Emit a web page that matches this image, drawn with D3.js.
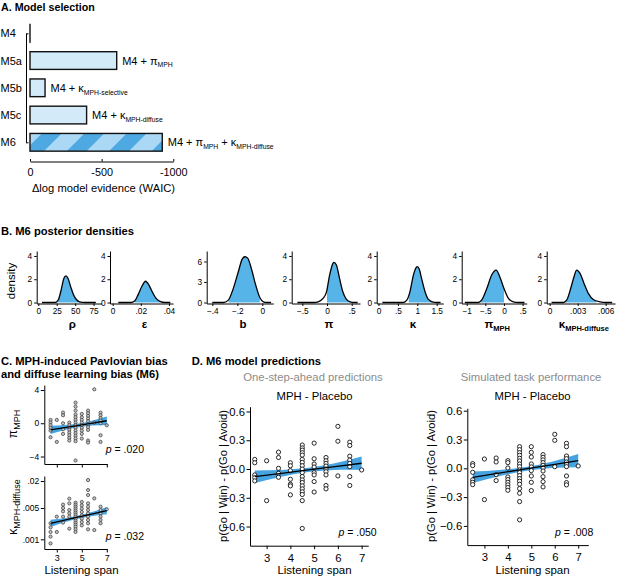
<!DOCTYPE html>
<html>
<head>
<meta charset="utf-8">
<script src="https://cdn.jsdelivr.net/npm/d3@7"></script>
<style>
  body { margin: 0; background: #fff; }
  svg { font-family: "Liberation Sans", Arial, sans-serif; }
</style>
</head>
<body>
<svg id="fig" width="617" height="579"></svg>
<script>
// ---------- data ----------

// A. model selection
var models = ['M4', 'M5a', 'M5b', 'M5c', 'M6'];
var deltaWAIC = [0, -605, -105, -395, -923];
var modelTerms = [
  [],
  [['M4 + π'], ['MPH', 1]],
  [['M4 + κ'], ['MPH-selective', 1]],
  [['M4 + κ'], ['MPH-diffuse', 1]],
  [['M4 + π'], ['MPH', 1], [' + κ'], ['MPH-diffuse', 1]]
];

// B. posterior densities (x, density)
var rho      = {x: [5, 23, 27, 31.4, 34.6, 37.5, 40.4, 44, 47.6, 51.6, 56, 63, 78],
                d: [0, 0, 0.2, 1.2, 2.06, 2.29, 2.06, 1.34, 0.69, 0.26, 0.06, 0, 0]};
var epsilon  = {x: [0.004, 0.013, 0.0158, 0.0182, 0.0206, 0.0234, 0.0258, 0.0282, 0.0306, 0.0336, 0.0372, 0.041],
                d: [0, 0, 0.15, 0.7, 1.35, 1.83, 1.5, 0.9, 0.4, 0.1, 0, 0]};
var goBias   = {x: [-0.4, -0.312, -0.272, -0.232, -0.192, -0.16, -0.139, -0.117, -0.085, -0.053, -0.019, 0.008, 0.035, 0.07],
                d: [0, 0, 0.35, 2.07, 4.5, 6.4, 6.7, 6.5, 4.8, 2.56, 0.69, 0.1, 0, 0]};
var pav      = {x: [-0.6, -0.26, -0.18, -0.08, -0.01, 0.054, 0.12, 0.14, 0.19, 0.254, 0.32, 0.39, 0.47, 0.55, 0.62],
                d: [0, 0, 0.06, 0.35, 0.92, 2.37, 3.37, 3.45, 3.22, 2.07, 0.92, 0.29, 0.06, 0, 0]};
var kappa    = {x: [0.1, 0.64, 0.73, 0.81, 0.9, 0.97, 1.0, 1.05, 1.11, 1.2, 1.28, 1.41, 1.5, 1.6],
                d: [0, 0, 0.2, 0.92, 2.36, 3.0, 3.08, 2.88, 2.07, 0.92, 0.29, 0.03, 0, 0]};
var pavMPH   = {x: [-1.05, -0.69, -0.6, -0.46, -0.33, -0.21, -0.11, 0, 0.12, 0.25, 0.38, 0.55],
                d: [0, 0, 0.2, 1.2, 2.36, 2.79, 2.2, 1.2, 0.35, 0.06, 0, 0]};
var kappaMPH = {x: [0.0002, 0.00146, 0.00182, 0.00225, 0.0026, 0.00289, 0.00325, 0.00368, 0.00414, 0.00467, 0.00539, 0.0061, 0.0067],
                d: [0, 0, 0.2, 1.2, 2.2, 2.79, 2.5, 1.64, 0.78, 0.26, 0.06, 0, 0]};

var posteriors = [
  {dens: rho,      fill: [27, 63],         dom: [-2.2, 86],          ticks: [0, 25, 50, 75],   labels: ['0', '25', '50', '75'],        yt: [0, 2, 4], name: [['ρ']]},
  {dens: epsilon,  fill: [0.0158, 0.034],  dom: [-0.0019, 0.0429],   ticks: [0, 0.02, 0.04],   labels: ['0', '.02', '.04'],            yt: [0, 2, 4], name: [['ε']]},
  {dens: goBias,   fill: [-0.27, -0.02],   dom: [-0.445, 0.088],     ticks: [-0.4, -0.2, 0],   labels: ['−.4', '−.2', '0'],            yt: [0, 3, 6], name: [['b']]},
  {dens: pav,      fill: [0, 0.55],        dom: [-0.715, 0.668],     ticks: [-0.5, 0, 0.5],    labels: ['−.5', '0', '.5'],             yt: [0, 2, 4], name: [['π']]},
  {dens: kappa,    fill: [0.78, 1.5],      dom: [-0.046, 1.67],      ticks: [0, 0.5, 1, 1.5],  labels: ['0', '.5', '1', '1.5'],        yt: [0, 2, 4], name: [['κ']]},
  {dens: pavMPH,   fill: [-0.62, 0],       dom: [-1.134, 0.61],      ticks: [-1, -0.5, 0, 0.5], labels: ['−1', '−.5', '0', '.5'],      yt: [0, 2, 4], name: [['π'], ['MPH', 1]]},
  {dens: kappaMPH, fill: [0.0017, 0.005],  dom: [-0.00032, 0.0070],  ticks: [0, 0.003, 0.006], labels: ['0', '.003', '.006'],         yt: [0, 2, 4], name: [['κ'], ['MPH-diffuse', 1]]}
];

// C / D. per-subject values, grouped by listening span
var spanCols = [2.5, 3, 3.5, 4, 4.5, 5, 5.5, 6, 6.5, 7];
var piMPHCols = [
  [0.4, 0.08, -0.24, -0.56, -0.88, -1.68],
  [0.4, -2.24],
  [1.28, 0.96, 0, -0.72, -1.28],
  [0.08, -0.24, -0.52, -0.8, -1.12, -1.44, -1.76, -2.08],
  [2.48, 2.0, 1.52, 1.04, 0.72, 0.4, 0.08, -0.24, -0.56, -0.88, -1.2, -1.52, -1.84, -2.16, -4.48],
  [1.12, 0.72, 0.4, 0.08, -0.24, -0.56, -0.88, -1.28, -1.84],
  [1.52, 1.2, 0.88, 0.56, 0.24, -0.16, -0.48, -0.8, -2.08, -2.32],
  [4.08, 0.08],
  [1.28, 0.96, 0.64, 0.32, 0, -1.44, -2.24],
  [-0.24]
];
var kappaMPHCols = [
  [0.00228, 0.00185, 0.00146, 0.00115, 0.00081],
  [0.0032, 0.00146],
  [0.00593, 0.005, 0.0042, 0.0032, 0.00236],
  [0.00807, 0.00635, 0.00451, 0.0038, 0.0032, 0.00173],
  [0.00657, 0.00593, 0.00535, 0.00483, 0.00436, 0.00393, 0.00355, 0.0032, 0.00289, 0.00261, 0.00235, 0.00212, 0.00191, 0.00167, 0.00146],
  [0.00681, 0.00573, 0.00483, 0.00407, 0.00343, 0.00289, 0.00243, 0.00205],
  [0.021, 0.0126, 0.00975, 0.00635, 0.00535, 0.00451, 0.0038, 0.0032, 0.0027, 0.00228, 0.00167],
  [0.0082, 0.00161],
  [0.00535, 0.00451, 0.0038, 0.0032, 0.0027, 0.00228],
  [0.00467]
];
var oneStepCols = [
  [0.10, 0.065, -0.062, -0.09, -0.124],
  [0.086, -0.33],
  [0.176, 0.12, 0.007, -0.045, -0.086],
  [0.065, 0.034, -0.017, -0.107, -0.159, -0.176, -0.27],
  [0.25, 0.22, 0.197, 0.17, 0.145, 0.10, 0.069, 0.034, 0.0, -0.038, -0.079, -0.114, -0.141, -0.176, -0.207, -0.238, -0.266, -0.33, -0.62],
  [0.27, 0.107, 0.052, 0.021, -0.038, -0.062, -0.131, -0.24],
  [0.12, 0.086, 0.059, 0.031, 0, -0.028, -0.062, -0.172, -0.207],
  [0.445, 0.29, -0.072],
  [0.28, 0.245, 0.134, 0.093, 0.059, 0.024, -0.079, -0.172],
  [-0.01]
];
var simulatedCols = [
  [0.049, 0.028, -0.042, -0.121, -0.146, -0.17],
  [0.097, -0.326],
  [0.107, 0.066, -0.066, -0.128],
  [0.08, 0.059, 0.003, -0.09, -0.118, -0.146, -0.173, -0.2, -0.229],
  [0.225, 0.194, 0.163, 0.135, 0.104, 0.076, 0.045, 0.017, -0.017, -0.045, -0.076, -0.107, -0.135, -0.166, -0.211, -0.26, -0.347, -0.537],
  [0.225, 0.166, 0.118, 0.045, 0.014, -0.024, -0.08, -0.146, -0.232],
  [0.142, 0.114, 0.087, 0.059, 0.031, 0.003, -0.028, -0.087, -0.139, -0.194],
  [0.354, 0.291, 0.017],
  [0.26, 0.225, 0.128, 0.1, 0.066, 0.042, 0.017, -0.08, -0.149, -0.173],
  [0.024]
];

// linear fits with 95% bands, read at these spans
var fitSpan = [2.5, 3.625, 4.75, 5.875, 7];
var fitPiMPH     = {mid: [-0.8, -0.525, -0.25, 0.025, 0.3],
                    lo:  [-1.3, -0.825, -0.47, -0.275, -0.2],
                    hi:  [-0.3, -0.225, -0.03, 0.325, 0.8]};
var fitKappaMPH  = {mid: [0.00228, 0.00267, 0.00315, 0.0037, 0.00436],
                    lo:  [0.00189, 0.00241, 0.0029, 0.00333, 0.00362],
                    hi:  [0.00274, 0.00296, 0.00341, 0.0041, 0.00524]};
var fitOneStep   = {mid: [-0.08, -0.045, -0.01, 0.025, 0.06],
                    lo:  [-0.145, -0.08, -0.032, -0.01, -0.01],
                    hi:  [-0.015, -0.01, 0.012, 0.06, 0.13]};
var fitSimulated = {mid: [-0.094, -0.0505, -0.007, 0.0365, 0.08],
                    lo:  [-0.154, -0.0835, -0.027, 0.0035, 0.012],
                    hi:  [-0.034, -0.0175, 0.013, 0.0695, 0.148]};

// ---------- drawing ----------
var svg = d3.select('#fig');
var BLUE = '#56B4E9';
var BAND = '#45a3e1';

function rich(t, parts, subSize, shift) {
  var down = false;
  parts.forEach(function(p) {
    var ts = t.append('tspan').text(p[0]);
    if (p[1]) {
      ts.attr('font-size', subSize);
      if (!down) { ts.attr('dy', shift); down = true; }
    } else if (down) {
      ts.attr('dy', -shift); down = false;
    }
  });
  return t;
}

function styleAxis(g, fs) {
  g.attr('font-family', null).attr('font-size', fs);
  g.selectAll('.domain, .tick line').attr('stroke', '#000').attr('stroke-width', 1);
  g.selectAll('.tick text').attr('fill', '#000');
  return g;
}

function title(x, y, str) {
  svg.append('text').attr('x', x).attr('y', y)
    .attr('font-weight', 'bold').attr('font-size', 11.2).text(str);
}

// stripes for M6
var pat = svg.append('defs').append('pattern')
  .attr('id', 'stripes').attr('patternUnits', 'userSpaceOnUse')
  .attr('width', 30).attr('height', 30)
  .attr('patternTransform', 'rotate(45)');
pat.append('rect').attr('width', 30).attr('height', 30).attr('fill', '#abd9f5');
pat.append('rect').attr('x', 4).attr('width', 14).attr('height', 30).attr('fill', '#4ea8e1');

// ----- A -----
svg.append('text').attr('x', 1).attr('y', 11)
  .attr('font-weight', 'bold').attr('font-size', 10.7).text('A. Model selection');

var xA = d3.scaleLinear().domain([0, -1000]).range([30, 173.3]);
var yA = d3.scalePoint().domain(models).range([33.3, 142.3]);
var barH = 17.7;
var gA = svg.append('g');

models.forEach(function(m, i) {
  var v = deltaWAIC[i];
  gA.append('rect')
    .attr('x', xA(0)).attr('y', yA(m) - barH / 2)
    .attr('width', Math.max(xA(v) - xA(0), 0.01)).attr('height', barH)
    .attr('fill', m === 'M6' ? 'url(#stripes)' : '#d3ebf9')
    .attr('stroke', '#111').attr('stroke-width', 1.4);
  gA.append('text').attr('x', 0.5).attr('y', yA(m) + 4)
    .attr('font-size', 11).text(m);
  if (modelTerms[i].length) {
    rich(gA.append('text').attr('x', xA(v) + 5.5).attr('y', yA(m) + 4).attr('font-size', 11),
      modelTerms[i], 6.8, 2.8);
  }
});

styleAxis(gA.append('g').attr('transform', 'translate(0,161.5)')
  .call(d3.axisBottom(xA).tickValues([0, -500, -1000]).tickSize(-2.5).tickSizeOuter(0)
    .tickPadding(6.5).tickFormat(function(d) { return String(d); })), 10.8);

styleAxis(gA.append('g').attr('transform', 'translate(26,0)')
  .call(d3.axisLeft(yA).tickValues([models[0], models[models.length - 1]])
    .tickSize(-2.5).tickSizeOuter(0).tickFormat('')), 10);

gA.append('text').attr('x', 103.5).attr('y', 192).attr('text-anchor', 'middle')
  .attr('font-size', 11.2).text('Δlog model evidence (WAIC)');

// ----- B -----
title(1, 235, 'B. M6 posterior densities');
svg.append('text').attr('transform', 'translate(15,281) rotate(-90)')
  .attr('text-anchor', 'middle').attr('font-size', 11.5).text('density');

var bPanels = [[36.7, 101.7], [110, 173], [206.7, 273.3], [291.7, 360], [376.7, 443.3], [461.7, 526.7], [546.7, 615]];
var bBottom = 303.5, bTop = 251;

posteriors.forEach(function(p, i) {
  var x0 = bPanels[i][0], x1 = bPanels[i][1];
  var g = svg.append('g');
  var xs = d3.scaleLinear().domain(p.dom).range([x0, x1]);
  var big = p.yt[2] === 6;
  var ys = d3.scaleLinear().domain(big ? [-0.146, 7.54] : [-0.086, 4.43]).range([bBottom, bTop]);
  var pts = p.dens.x.map(function(x, k) { return [x, p.dens.d[k]]; });

  var clipId = 'clipB' + i;
  svg.select('defs').append('clipPath').attr('id', clipId)
    .append('rect').attr('x', xs(p.fill[0])).attr('y', bTop)
    .attr('width', xs(p.fill[1]) - xs(p.fill[0])).attr('height', bBottom - bTop);

  var area = d3.area().x(function(d) { return xs(d[0]); })
    .y0(ys(0)).y1(function(d) { return ys(d[1]); }).curve(d3.curveMonotoneX);
  var line = d3.line().x(function(d) { return xs(d[0]); })
    .y(function(d) { return ys(d[1]); }).curve(d3.curveMonotoneX);

  g.append('path').datum(pts).attr('d', area).attr('fill', BLUE).attr('clip-path', 'url(#' + clipId + ')');
  g.append('path').datum(pts).attr('d', line).attr('fill', 'none')
    .attr('stroke', '#000').attr('stroke-width', 1.3);

  styleAxis(g.append('g').attr('transform', 'translate(' + x0 + ',0)')
    .call(d3.axisLeft(ys).tickValues(p.yt).tickSize(2.5).tickSizeOuter(0).tickPadding(2)
      .tickFormat(d3.format('d'))), 8.3);
  styleAxis(g.append('g').attr('transform', 'translate(0,' + bBottom + ')')
    .call(d3.axisBottom(xs).tickValues(p.ticks).tickSize(2.5).tickSizeOuter(0).tickPadding(2.5)
      .tickFormat(function(d, k) { return p.labels[k]; })), 8.3);

  rich(g.append('text').attr('x', (x0 + x1) / 2 + 3).attr('y', 327.5)
    .attr('text-anchor', 'middle').attr('font-weight', 'bold').attr('font-size', 11.5),
    p.name, 7.5, 3);
});

// ----- scatter helper -----
function flatten(cols) {
  var out = [];
  cols.forEach(function(c, i) { c.forEach(function(v) { out.push([spanCols[i], v]); }); });
  return out;
}

function scatter(o) {
  var g = svg.append('g');
  var xs = o.x, ys = o.y;
  var band = d3.area().x(function(d, k) { return xs(fitSpan[k]); })
    .y0(function(d, k) { return ys(o.fit.lo[k]); })
    .y1(function(d, k) { return ys(o.fit.hi[k]); })
    .curve(d3.curveNatural);
  g.append('path').datum(fitSpan).attr('d', band).attr('fill', BAND);

  g.selectAll('circle').data(flatten(o.cols)).enter().append('circle')
    .attr('cx', function(d) { return xs(d[0]); })
    .attr('cy', function(d) { return ys(d[1]); })
    .attr('r', o.r).attr('fill', o.ptFill).attr('stroke', o.ptStroke).attr('stroke-width', o.ptWidth);

  var line = d3.line().x(function(d, k) { return xs(fitSpan[k]); })
    .y(function(d, k) { return ys(o.fit.mid[k]); });
  g.append('path').datum(fitSpan).attr('d', line).attr('fill', 'none')
    .attr('stroke', '#000').attr('stroke-width', 1.3);

  var yr = ys.range(), xr = xs.range();
  styleAxis(g.append('g').attr('transform', 'translate(' + xr[0] + ',0)')
    .call(d3.axisLeft(ys).tickValues(o.yTicks).tickSize(o.tick).tickSizeOuter(0)
      .tickPadding(o.pad).tickFormat(o.yFmt)), o.fs);
  styleAxis(g.append('g').attr('transform', 'translate(0,' + yr[0] + ')')
    .call(d3.axisBottom(xs).tickValues(o.xTicks).tickSize(o.tick).tickSizeOuter(0)
      .tickPadding(o.xPad).tickFormat(o.xLabels ? d3.format('d') : '')), o.xfs);

  var pt = g.append('text').attr('x', o.pPos[0]).attr('y', o.pPos[1])
    .attr('text-anchor', 'end').attr('font-size', 10.5);
  pt.append('tspan').attr('font-style', 'italic').text('p');
  pt.append('tspan').text(' = ' + o.p);
  return g;
}

// ----- C -----
title(1, 364.5, 'C. MPH-induced Pavlovian bias');
title(1, 377.5, 'and diffuse learning bias (M6)');

var xC = d3.scaleLinear().domain([2, 7]).range([44.3, 106.8]);
scatter({
  x: xC, y: d3.scaleLinear().domain([-4.9, 4.6]).range([464, 385]),
  cols: piMPHCols, fit: fitPiMPH, r: 1.6, ptFill: '#c4c4c4', ptStroke: '#333', ptWidth: 0.7,
  yTicks: [-4, 0, 4], yFmt: d3.format('d'), xTicks: [3, 5, 7], xLabels: false,
  tick: 3.5, pad: 1.5, xPad: 2, fs: 8.5, xfs: 9, p: '.020', pPos: [144, 452.5]
});
scatter({
  x: xC, y: d3.scaleLog().domain([Math.pow(10, -3.216), Math.pow(10, -1.587)]).range([549, 476]),
  cols: kappaMPHCols, fit: fitKappaMPH, r: 1.6, ptFill: '#c4c4c4', ptStroke: '#333', ptWidth: 0.7,
  yTicks: [0.001, 0.005, 0.02], yFmt: function(d) { return String(d).replace(/^0/, ''); },
  xTicks: [3, 5, 7], xLabels: true,
  tick: 3.5, pad: 1.5, xPad: 2, fs: 8.5, xfs: 9, p: '.032', pPos: [144, 539.5]
});
rich(svg.append('text').attr('transform', 'translate(17,424) rotate(-90)')
  .attr('text-anchor', 'middle').attr('font-size', 12), [['π'], ['MPH', 1]], 9, 3);
rich(svg.append('text').attr('transform', 'translate(17,507) rotate(-90)')
  .attr('text-anchor', 'middle').attr('font-size', 12), [['κ'], ['MPH-diffuse', 1]], 9, 3);
svg.append('text').attr('x', 81.5).attr('y', 574).attr('text-anchor', 'middle')
  .attr('font-size', 11.5).text('Listening span');

// ----- D -----
title(191.7, 364.5, 'D. M6 model predictions');

var dPanels = [
  {x: d3.scaleLinear().domain([2.3, 7.28]).range([250, 368.3]),
   y: d3.scaleLinear().domain([-0.8, 0.65]).range([545.7, 406.7]),
   cols: oneStepCols, fit: fitOneStep, sub: 'One-step-ahead predictions', p: '.050',
   cx: 313, yLab: 223.3, pPos: [376.7, 535.5]},
  {x: d3.scaleLinear().domain([2.27, 7.43]).range([467.3, 588.3]),
   y: d3.scaleLinear().domain([-0.8, 0.625]).range([545.1, 408.3]),
   cols: simulatedCols, fit: fitSimulated, sub: 'Simulated task performance', p: '.008',
   cx: 531, yLab: 430.7, pPos: [593.3, 536]}
];

dPanels.forEach(function(d) {
  scatter({
    x: d.x, y: d.y, cols: d.cols, fit: d.fit, r: 2.1, ptFill: '#fff', ptStroke: '#111', ptWidth: 0.9,
    yTicks: [-0.6, -0.3, 0, 0.3, 0.6], yFmt: d3.format('.1f'), xTicks: [3, 4, 5, 6, 7], xLabels: true,
    tick: 3.5, pad: 1.5, xPad: 4.5, fs: 11.3, xfs: 11.3, p: d.p, pPos: d.pPos
  });
  svg.append('text').attr('x', d.cx).attr('y', 381).attr('text-anchor', 'middle')
    .attr('font-size', 11.3).attr('fill', '#8c8c8c').text(d.sub);
  svg.append('text').attr('x', d.cx + 1.5).attr('y', 400).attr('text-anchor', 'middle')
    .attr('font-size', 11.3).text('MPH - Placebo');
  svg.append('text').attr('transform', 'translate(' + (d.yLab + 4) + ',476) rotate(-90)')
    .attr('text-anchor', 'middle').attr('font-size', 11.2).text('p(Go | Win) - p(Go | Avoid)');
  svg.append('text').attr('x', d.cx + 1.5).attr('y', 574).attr('text-anchor', 'middle')
    .attr('font-size', 11.5).text('Listening span');
});
</script>
</body>
</html>
